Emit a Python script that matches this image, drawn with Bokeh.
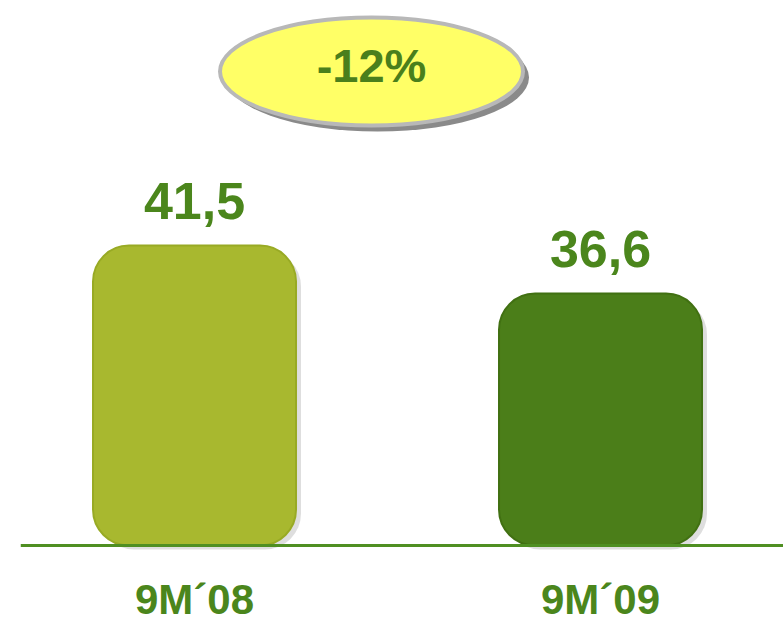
from bokeh.plotting import figure
from bokeh.models import Range1d, ColumnDataSource, Span
from bokeh.core.properties import value
from bokeh.embed import file_html
from bokeh.resources import INLINE

# ---- data ----
categories = ["9M\u00b408", "9M\u00b409"]
values = [41.5, 36.6]
bar_colors = ["#a8b82f", "#4b7e19"]
bar_edges = ["#98aa24", "#417012"]
change_pct = round((values[1] - values[0]) / values[0] * 100)
change_label = f"{change_pct}%"

W, H = 783, 627
LEFT = 20
X0, X1 = -0.4286, 1.4507
BASE = 10.9
Y1, Y0 = 66.51, 2.53
pxx = (W - LEFT) / (X1 - X0)
pxy = H / (Y1 - Y0)

green_text = "#4b861c"
font = value("Liberation Sans")

p = figure(width=W, height=H, output_backend="svg", toolbar_location=None,
           x_range=Range1d(X0, X1), y_range=Range1d(Y0, Y1),
           x_axis_location=None, y_axis_location=None,
           min_border_left=LEFT, min_border_right=0,
           min_border_top=0, min_border_bottom=0)
p.outline_line_color = None
p.grid.visible = False
p.background_fill_color = "white"

xs = list(range(len(categories)))
src = ColumnDataSource(dict(
    x=xs, top=values, color=bar_colors, edge=bar_edges,
    label=[f"{v:.1f}".replace(".", ",") for v in values],
    label_y=[v + (25 + 20) / pxy for v in values],
    cat=categories, cat_y=[BASE - (77 - 23) / pxy] * len(xs)))

# bar shadows
shadow = ColumnDataSource(dict(x=[x + 5 / pxx for x in xs],
                               top=[v - 5 / pxy for v in values]))
p.vbar(x="x", top="top", bottom=BASE - 4 / pxy, width=0.5, source=shadow,
       fill_color="#000000", fill_alpha=0.13, line_color=None, border_radius=36)

p.vbar(x="x", top="top", bottom=BASE, width=0.5, source=src,
       fill_color="color", line_color="edge", line_width=2, border_radius=36)

# baseline
p.add_layout(Span(location=BASE, dimension="width", line_color="#4f8f22",
                  line_width=3))

p.text(x="x", y="label_y", text="label", source=src, text_align="center",
       text_baseline="alphabetic", text_font=font,
       text_font_style="bold", text_font_size="52px", text_color=green_text)

p.text(x="x", y="cat_y", text="cat", source=src, text_align="center",
       text_baseline="alphabetic", text_font=font,
       text_font_style="bold", text_font_size="42px", text_color=green_text)

# change ellipse
ex = (371 - 194) / pxx
ey = Y1 - 71 / pxy
p.ellipse(x=[ex + 6 / pxx], y=[ey - 6 / pxy], width=303, height=108,
          width_units="screen", height_units="screen",
          fill_color="#8a8a8a", line_color=None)
p.ellipse(x=[ex], y=[ey], width=303, height=108,
          width_units="screen", height_units="screen",
          fill_color="#ffff66", line_color="#b8b8b8", line_width=4)
p.text(x=[ex], y=[ey + (19 - 13) / pxy], text=[change_label], text_align="center",
       text_baseline="alphabetic", text_font=font, text_font_style="bold",
       text_font_size="47px", text_color="#4a7f1c")

open("out.html", "w").write(file_html(p, INLINE))
